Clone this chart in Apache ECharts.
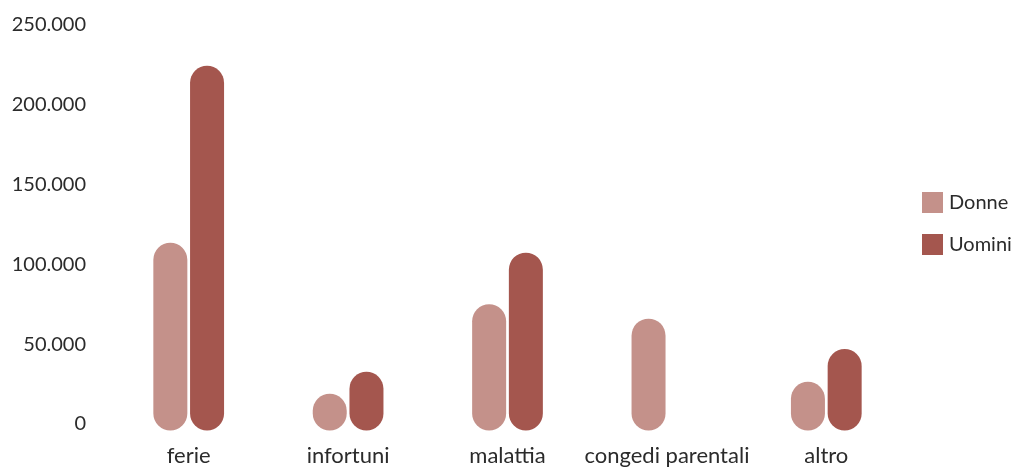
<!DOCTYPE html>
<html>
<head>
<meta charset="utf-8">
<script src="https://cdn.jsdelivr.net/npm/echarts@6/dist/echarts.min.js"></script>
<style>
  html, body { margin: 0; padding: 0; background: #ffffff; }
  #chart { width: 1023px; height: 469px; }
</style>
</head>
<body>
<div id="chart"></div>
<script>
// Giornate di assenza per causa, divise per genere
const categories = ['ferie', 'infortuni', 'malattia', 'congedi parentali', 'altro'];
const donne = [117500, 23000, 79000, 70000, 30500];
const uomini = [228300, 36800, 111300, 0, 51000];
const yTicks = [0, 50000, 100000, 150000, 200000, 250000];

const colorDonne = '#c4918a';
const colorUomini = '#a4564e';
const textColor = '#2b2b2b';
const fontFamily = 'Lato, "Open Sans", sans-serif';

// 250000 -> "250.000"
function fmt(v) {
  return String(v).replace(/\B(?=(\d{3})+(?!\d))/g, '.');
}

const chart = echarts.init(document.getElementById('chart'), null, { renderer: 'canvas' });

chart.setOption({
  animation: false,
  backgroundColor: '#ffffff',
  textStyle: { fontFamily: fontFamily, color: textColor },
  grid: { left: 109, right: 117, top: 31, bottom: 38.5, containLabel: false },
  legend: {
    orient: 'vertical',
    left: 922,
    top: 192,
    padding: 0,
    itemWidth: 21,
    itemHeight: 21,
    itemGap: 21,
    icon: 'rect',
    textStyle: { fontFamily: fontFamily, fontSize: 20, color: textColor, padding: [0, 0, 0, 1] },
    data: ['Donne', 'Uomini']
  },
  xAxis: {
    type: 'category',
    data: categories,
    axisLine: { show: false },
    axisTick: { show: false },
    axisLabel: {
      fontFamily: fontFamily,
      fontSize: 22,
      color: textColor,
      margin: 14,
      interval: 0
    }
  },
  yAxis: {
    type: 'value',
    min: yTicks[0],
    max: yTicks[yTicks.length - 1],
    interval: yTicks[1] - yTicks[0],
    axisLine: { show: false },
    axisTick: { show: false },
    splitLine: { show: false },
    axisLabel: {
      fontFamily: fontFamily,
      fontSize: 20,
      color: textColor,
      margin: 23,
      verticalAlign: 'bottom',
      lineHeight: 13,
      formatter: fmt
    }
  },
  series: [
    {
      name: 'Donne',
      type: 'bar',
      data: donne,
      barWidth: 34,
      barGap: '8%',
      itemStyle: { color: colorDonne, borderRadius: 17 }
    },
    {
      name: 'Uomini',
      type: 'bar',
      data: uomini,
      barWidth: 34,
      barGap: '8%',
      itemStyle: { color: colorUomini, borderRadius: 17 }
    }
  ]
});
</script>
</body>
</html>
